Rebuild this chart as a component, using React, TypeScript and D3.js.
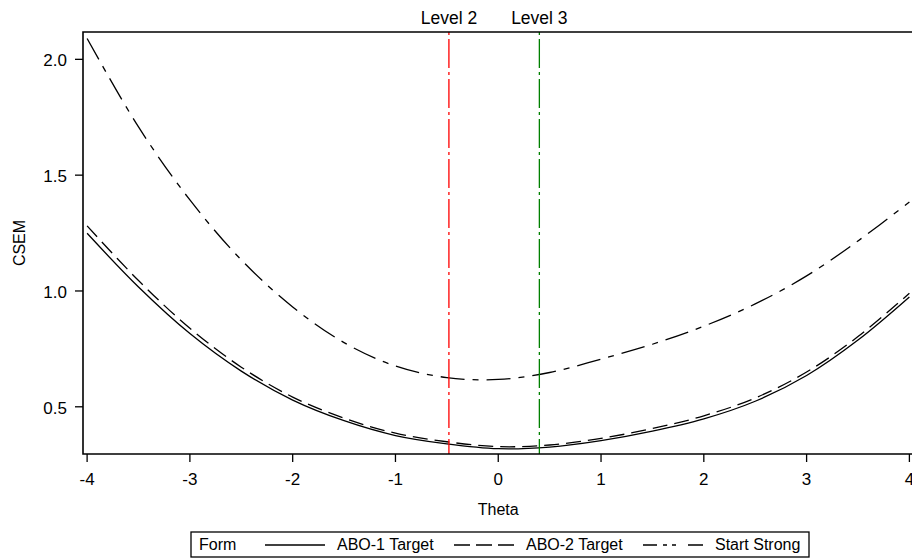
import React from "react";
import * as d3 from "d3";

const thetas = [-4, -3.5, -3, -2.5, -2, -1.5, -1, -0.5, 0, 0.5, 1, 1.5, 2, 2.5, 3, 3.5, 4];
const abo1 = [1.249, 1.017, 0.816, 0.654, 0.529, 0.44, 0.376, 0.34, 0.319, 0.326, 0.354, 0.395, 0.448, 0.524, 0.635, 0.788, 0.974];
const abo2 = [1.281, 1.045, 0.839, 0.671, 0.542, 0.451, 0.386, 0.349, 0.328, 0.335, 0.364, 0.406, 0.461, 0.538, 0.65, 0.803, 0.99];
const startStrong = [2.09, 1.708, 1.393, 1.134, 0.931, 0.777, 0.676, 0.626, 0.618, 0.648, 0.706, 0.77, 0.848, 0.944, 1.065, 1.216, 1.384];
const xTicks = [-4, -3, -2, -1, 0, 1, 2, 3, 4];
const yTicks = [0.5, 1.0, 1.5, 2.0];
const levels = [
  { label: "Level 2", theta: -0.48, color: "#ff0000" },
  { label: "Level 3", theta: 0.4, color: "#008000" },
];
const seriesNames = ["ABO-1 Target", "ABO-2 Target", "Start Strong"];

const FONT = "'Liberation Sans', Arial, sans-serif";

export default function App() {
  const left = 83, right = 913.5, top = 32, bottom = 454;
  const x = d3.scaleLinear().domain([-4.04, 4.04]).range([left, right]);
  const y = d3.scaleLinear().domain([0.2962, 2.118]).range([bottom, top]);
  const line = d3
    .line<[number, number]>()
    .x((d) => x(d[0]))
    .y((d) => y(d[1]))
    .curve(d3.curveCatmullRom.alpha(0.5));
  const mk = (vals: number[]) => line(thetas.map((t, i) => [t, vals[i]] as [number, number])) || "";

  const series = [
    { name: seriesNames[0], vals: abo1, dash: undefined as string | undefined, legendDash: undefined as string | undefined },
    { name: seriesNames[1], vals: abo2, dash: "15 7", legendDash: "16 6 16 6 16" },
    { name: seriesNames[2], vals: startStrong, dash: "24 8 6 8", legendDash: "14 6 4 5 4 12 15" },
  ];

  const lgX = 191, lgY = 532, lgW = 618, lgH = 25;
  const textY = 550;
  const items = [
    { lx: 265, tx: 337 },
    { lx: 454, tx: 526 },
    { lx: 643, tx: 715 },
  ];

  return (
    <svg
      width={912}
      height={558}
      style={{ position: "absolute", left: 0, top: 0, background: "#fff" }}
      fontFamily={FONT}
      fontSize={16}
    >
      <rect x={0} y={0} width={912} height={558} fill="#fff" />
      {series.map((s) => (
        <path key={s.name} d={mk(s.vals)} fill="none" stroke="#000" strokeWidth={1.3} strokeDasharray={s.dash} />
      ))}
      {levels.map((l) => (
        <g key={l.label}>
          <line
            x1={x(l.theta)}
            x2={x(l.theta)}
            y1={top}
            y2={bottom}
            stroke={l.color}
            strokeWidth={1.3}
            strokeDasharray="3 4 29 4"
          />
          <text x={x(l.theta)} y={24} textAnchor="middle" fill="#000" fontSize={17.5}>
            {l.label}
          </text>
        </g>
      ))}
      <path
        d={`M${left},${bottom}L${left},${top}L${right},${top}L${right},${bottom}Z`}
        fill="none"
        stroke="#000"
        strokeWidth={1.6}
      />
      {xTicks.map((t) => (
        <g key={t}>
          <line x1={x(t)} x2={x(t)} y1={bottom} y2={bottom + 8} stroke="#000" strokeWidth={1.3} />
          <text x={x(t)} y={bottom + 31} textAnchor="middle" fill="#000" fontSize={17}>
            {String(t)}
          </text>
        </g>
      ))}
      <text x={(left + right) / 2} y={515} textAnchor="middle" fill="#000">
        Theta
      </text>
      {yTicks.map((t) => (
        <g key={t}>
          <line x1={left - 8} x2={left} y1={y(t)} y2={y(t)} stroke="#000" strokeWidth={1.3} />
          <text x={67} y={y(t)} dy="0.42em" textAnchor="end" fill="#000" fontSize={17}>
            {d3.format(".1f")(t)}
          </text>
        </g>
      ))}
      <text transform={`translate(25,${(top + bottom) / 2}) rotate(-90)`} textAnchor="middle" fill="#000">
        CSEM
      </text>
      <rect x={lgX} y={lgY} width={lgW} height={lgH} fill="none" stroke="#000" strokeWidth={1.3} />
      <text x={199} y={textY} fill="#000">
        Form
      </text>
      {series.map((s, i) => (
        <g key={s.name}>
          <line
            x1={items[i].lx}
            x2={items[i].lx + 60}
            y1={lgY + lgH / 2 + 0.5}
            y2={lgY + lgH / 2 + 0.5}
            stroke="#000"
            strokeWidth={1.3}
            strokeDasharray={s.legendDash}
          />
          <text x={items[i].tx} y={textY} fill="#000">
            {s.name}
          </text>
        </g>
      ))}
    </svg>
  );
}
